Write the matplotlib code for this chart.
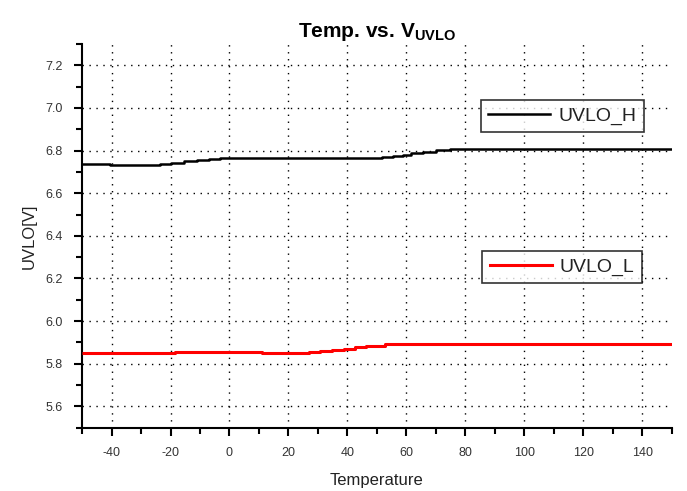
import matplotlib
matplotlib.use("Agg")
import matplotlib.pyplot as plt
from matplotlib.ticker import MultipleLocator
from matplotlib.lines import Line2D

plt.rcParams['font.family'] = ['Liberation Sans', 'DejaVu Sans']
plt.rcParams['mathtext.fontset'] = 'custom'
plt.rcParams['mathtext.rm'] = 'Liberation Sans'
plt.rcParams['mathtext.bf'] = 'Liberation Sans:bold'

# UVLO thresholds vs. temperature (step-wise readings)
temp_h = [-50, -40.5, -23.6, -19.9, -15.4, -11.0, -7.0, -3.2,
          51.6, 55.4, 58.8, 61.7, 65.6, 70.1, 74.7, 150]
uvlo_h = [6.737, 6.730, 6.735, 6.742, 6.749, 6.755, 6.761, 6.766,
          6.769, 6.775, 6.781, 6.787, 6.794, 6.801, 6.808, 6.808]

temp_l = [-50, -18.4, 10.9, 27.0, 30.8, 34.7, 38.7, 42.6, 46.4, 52.6, 150]
uvlo_l = [5.850, 5.857, 5.850, 5.855, 5.862, 5.866, 5.871, 5.879, 5.885, 5.894, 5.894]

x_ticks = [-40, -20, 0, 20, 40, 60, 80, 100, 120, 140]
y_ticks = [5.6, 5.8, 6.0, 6.2, 6.4, 6.6, 6.8, 7.0, 7.2]

fig = plt.figure(figsize=(6.87, 4.91), dpi=100)
ax = fig.add_axes([0.1194, 0.129, 0.8586, 0.7814])

ax.plot(temp_h, uvlo_h, color='black', lw=1.8, drawstyle='steps-post',
        solid_capstyle='butt', zorder=3)
ax.plot(temp_l, uvlo_l, color='#ff0000', lw=2.2, drawstyle='steps-post',
        solid_capstyle='butt', zorder=3)

ax.set_xlim(-50, 150)
ax.set_ylim(5.5, 7.3)
ax.set_xticks(x_ticks)
ax.set_yticks(y_ticks)
ax.set_xticklabels([str(t) for t in x_ticks])
ax.set_yticklabels([f"{t:.1f}" for t in y_ticks])
ax.xaxis.set_minor_locator(MultipleLocator(10))
ax.yaxis.set_minor_locator(MultipleLocator(0.1))

for side in ('top', 'right'):
    ax.spines[side].set_visible(False)
for side in ('left', 'bottom'):
    ax.spines[side].set_linewidth(1.5)

ax.tick_params(which='major', direction='out', length=6, width=1.5,
               labelsize=9, labelcolor='#333333', pad=8)
ax.tick_params(which='minor', direction='out', length=4, width=1.5)

ax.grid(True, which='major', color='black', linestyle=(0, (1, 4)), linewidth=1.0)

ax.set_title(r'Temp. vs. $\mathbf{V}_{\mathbf{UVLO}}$', fontsize=15,
             fontweight='bold', pad=5)
ax.set_xlabel('Temperature', fontsize=12, color='#222222', labelpad=10)
ax.set_ylabel('UVLO[V]', fontsize=12, color='#222222', labelpad=6)

leg_kw = dict(frameon=True, fancybox=False, edgecolor='black', fontsize=14,
              handlelength=3.2, handletextpad=0.4, borderpad=0.38,
              borderaxespad=0, labelcolor='#222222')
leg_h = ax.legend([Line2D([], [], color='black', lw=1.8)], ['UVLO_H'],
                  loc='center', bbox_to_anchor=(0.814, 0.812), **leg_kw)
leg_h.get_frame().set_linewidth(1.2)
ax.add_artist(leg_h)
leg_l = ax.legend([Line2D([], [], color='#ff0000', lw=2.2)], ['UVLO_L'],
                  loc='center', bbox_to_anchor=(0.814, 0.419), **leg_kw)
leg_l.get_frame().set_linewidth(1.2)

fig.savefig('out.png', dpi=100)
